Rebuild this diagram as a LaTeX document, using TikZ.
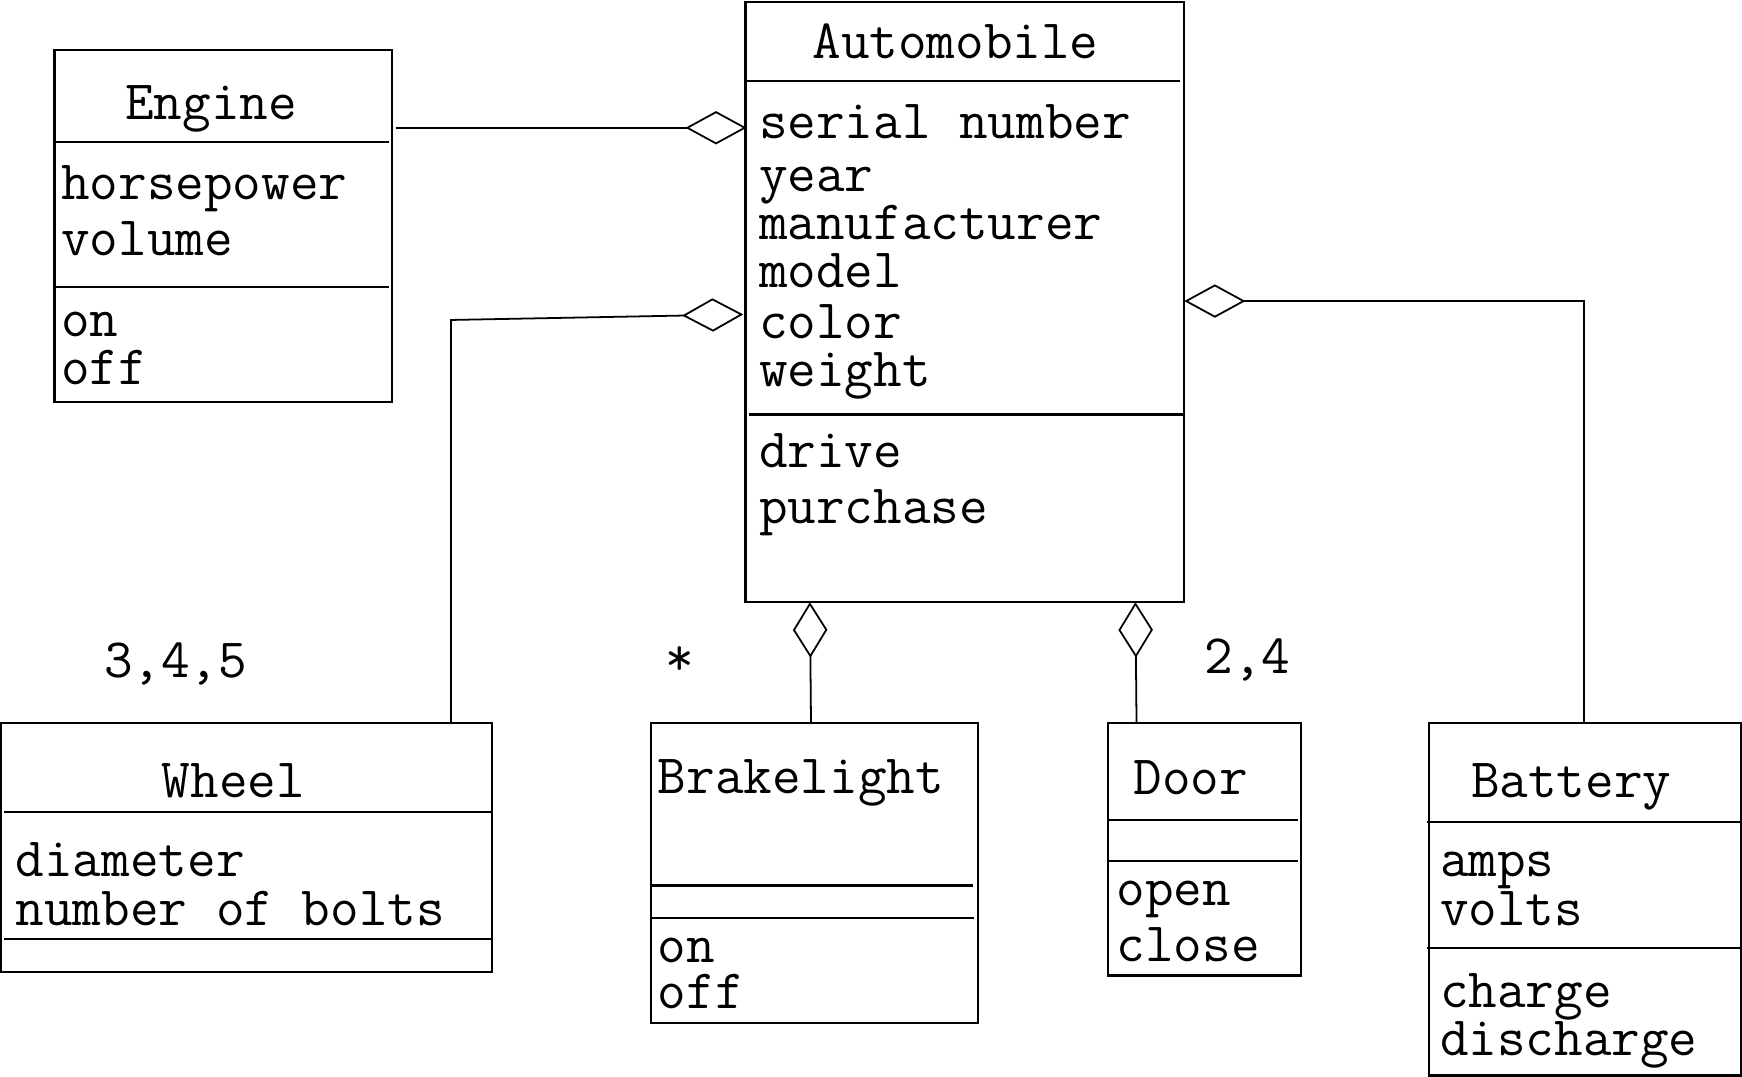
\documentclass[tikz,border=0pt]{standalone}
\usetikzlibrary{arrows.meta}

\begin{document}
\begin{tikzpicture}[x=1pt,y=-1pt,
  umlbox/.style={draw,line width=2pt,inner sep=0pt,outer sep=0pt,anchor=north west},
  sepline/.style={line width=2pt},
  txt/.style={inner sep=0pt,anchor=base west,text height=0.62em,text depth=0pt,
    font=\ttfamily\fontsize{50}{50}\selectfont},
  ctxt/.style={txt,anchor=base},
  link/.style={line width=1.6pt},
  agg/.style={link,-{Diamond[open,length=55pt,width=30pt,line width=1.6pt]}}
]
\useasboundingbox (0,0) rectangle (1568,969);

% ---- class boxes ----
\node[umlbox,minimum width=304pt,minimum height=317pt] (engine) at (49,45) {};
\node[umlbox,minimum width=395pt,minimum height=540pt] (auto) at (671,2) {};
\node[umlbox,minimum width=442pt,minimum height=224pt] (wheel) at (1,651) {};
\node[umlbox,minimum width=294pt,minimum height=270pt] (brake) at (586,651) {};
\node[umlbox,minimum width=174pt,minimum height=227pt] (door) at (997,651) {};
\node[umlbox,minimum width=281pt,minimum height=317pt] (battery) at (1286,651) {};

% ---- compartment separators ----
\draw[sepline] (49,128) -- (350,128);
\draw[sepline] (49,258) -- (350,258);
\draw[sepline] (671,73) -- (1062,73);
\draw[sepline] (674,373) -- (1066,373);
\draw[sepline] (4,731) -- (443,731);
\draw[sepline] (4,845) -- (443,845);
\draw[sepline] (586,797) -- (876,797);
\draw[sepline] (586,826) -- (877,826);
\draw[sepline] (997,738) -- (1168,738);
\draw[sepline] (997,775) -- (1168,775);
\draw[sepline] (1284,740) -- (1567,740);
\draw[sepline] (1284,853) -- (1567,853);

% ---- Engine ----
\node[ctxt] (engine-name) at (190,108) {Engine};
\node[txt] (engine-a1) at (55,180) {horsepower};
\node[txt] (engine-a2) at (55,230) {volume};
\node[txt] (engine-o1) at (55,303) {on};
\node[txt] (engine-o2) at (55,346) {off};

% ---- Automobile ----
\node[ctxt] (auto-name) at (860,53) {Automobile};
\node[txt] (auto-a1) at (683,125) {serial number};
\node[txt] (auto-a2) at (683,172) {year};
\node[txt] (auto-a3) at (683,216) {manufacturer};
\node[txt] (auto-a4) at (683,259) {model};
\node[txt] (auto-a5) at (683,305) {color};
\node[txt] (auto-a6) at (683,348) {weight};
\node[txt] (auto-o1) at (683,421) {drive};
\node[txt] (auto-o2) at (683,471) {purchase};

% ---- Wheel ----
\node[ctxt] (wheel-name) at (210,718) {Wheel};
\node[txt] (wheel-a1) at (14,789) {diameter};
\node[txt] (wheel-a2) at (14,833) {number of bolts};

% ---- Brakelight ----
\node[txt] (brake-name) at (592,714) {Brakelight};
\node[txt] (brake-o1) at (592,866) {on};
\node[txt] (brake-o2) at (592,908) {off};

% ---- Door ----
\node[txt] (door-name) at (1020,715) {Door};
\node[txt] (door-o1) at (1005,815) {open};
\node[txt] (door-o2) at (1005,865) {close};

% ---- Battery ----
\node[txt] (battery-name) at (1324,718) {Battery};
\node[txt] (battery-a1) at (1296,789) {amps};
\node[txt] (battery-a2) at (1296,833) {volts};
\node[txt] (battery-o1) at (1296,907) {charge};
\node[txt] (battery-o2) at (1296,950) {discharge};

% ---- multiplicities ----
\node[ctxt] (mult-wheel) at (158,610) {3,4,5};
\node[ctxt] (mult-brake) at (612,608) {*};
\node[ctxt] (mult-door) at (1123,606) {2,4};

% ---- connector end points ----
\coordinate (engine-end) at (356,115);
\coordinate (auto-engine) at (672,115);
\coordinate (wheel-top) at (406,651);
\coordinate (wheel-bend) at (406,288);
\coordinate (auto-wheel) at (669,283);
\coordinate (battery-top) at (1426,651);
\coordinate (battery-bend) at (1426,271);
\coordinate (auto-battery) at (1066,271);
\coordinate (brake-top) at (730,651);
\coordinate (auto-brake) at (729,542);
\coordinate (door-top) at (1023,651);
\coordinate (auto-door) at (1022,542);

% ---- aggregations ----
\draw[agg] (engine-end) -- (auto-engine);
\draw[agg] (wheel-top) -- (wheel-bend) -- (auto-wheel);
\draw[agg] (battery-top) -- (battery-bend) -- (auto-battery);
\draw[agg,-{Diamond[open,length=50pt,width=31pt,line width=1.6pt]}] (brake-top) -- (auto-brake);
\draw[agg,-{Diamond[open,length=50pt,width=31pt,line width=1.6pt]}] (door-top) -- (auto-door);
\end{tikzpicture}
\end{document}
